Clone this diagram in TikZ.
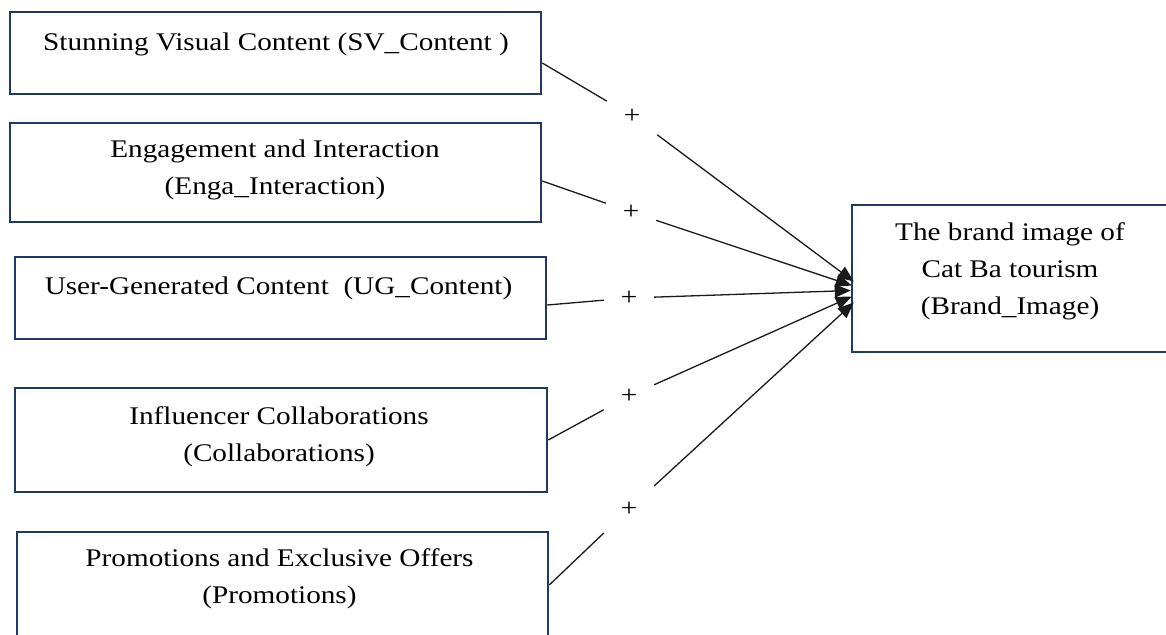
\documentclass[tikz,border=0pt]{standalone}
\usepackage{fontspec}
\setmainfont{Liberation Serif}[FakeStretch=1.15]
\usetikzlibrary{arrows.meta,calc}
\definecolor{boxblue}{HTML}{1F3864}
\definecolor{linegray}{HTML}{1A1A1A}
\begin{document}
\begin{tikzpicture}[x=1pt,y=-1pt,
  box/.style={draw=boxblue,line width=2.5pt,rectangle,inner sep=0pt,fill=white},
  txt/.style={align=center,font=\fontsize{25.4}{37}\selectfont,inner sep=0pt},
  plus/.style={rectangle,minimum width=50pt,minimum height=50pt,inner sep=0pt,font=\fontsize{25.4}{30}\selectfont},
  link/.style={draw=linegray,line width=1.3pt},
  arr/.style={link,-{Triangle[length=16pt,width=13pt]}}]
\useasboundingbox (0,0) rectangle (1166,634);
\clip (0,0) rectangle (1166,634);
% source boxes
\node[box,minimum width=531pt,minimum height=82pt] (b1) at (275.5,53) {};
\node[box,minimum width=531pt,minimum height=99pt] (b2) at (275.5,172.5) {};
\node[box,minimum width=531pt,minimum height=82pt] (b3) at (280.5,298) {};
\node[box,minimum width=532pt,minimum height=104pt] (b4) at (281,440) {};
\node[box,minimum width=531pt,minimum height=108pt] (b5) at (282.5,586) {};
\node[box,minimum width=318pt,minimum height=147pt] (brand) at (1011,278.5) {};
% texts
\node[txt] (b1t) at (276,44) {Stunning Visual Content (SV\_Content )};
\node[txt] (b2t) at (275,170) {Engagement and Interaction\\(Enga\_Interaction)};
\node[txt] (b3t) at (278.5,288) {User-Generated Content~~(UG\_Content)};
\node[txt] (b4t) at (279,436.5) {Influencer Collaborations\\(Collaborations)};
\node[txt] (b5t) at (279.5,578.5) {Promotions and Exclusive Offers\\(Promotions)};
\node[txt] (brandt) at (1010,271) {The brand image of\\Cat Ba tourism\\(Brand\_Image)};
% plus labels
\node[plus] (p1) at (632,116) {+};
\node[plus] (p2) at (631,212) {+};
\node[plus] (p3) at (629,298) {+};
\node[plus] (p4) at (629,396) {+};
\node[plus] (p5) at (629,509) {+};
% arrow targets
\coordinate (t1) at ($(brand.west)+(3,3)$);
\coordinate (t2) at ($(brand.west)+(1,7)$);
\coordinate (t3) at ($(brand.west)+(0,12)$);
\coordinate (t4) at ($(brand.west)+(1,18)$);
\coordinate (t5) at ($(brand.west)+(3,24)$);
% connectors
\draw[link] ([yshift=-10pt]b1.east) -- (p1);
\draw[arr] (p1) -- (t1);
\draw[link] ([yshift=-8.5pt]b2.east) -- (p2);
\draw[arr] (p2) -- (t2);
\draw[link] ([yshift=-7pt]b3.east) -- (p3);
\draw[arr] (p3) -- (t3);
\draw[link] (b4.east) -- (p4);
\draw[arr] (p4) -- (t4);
\draw[link] ([yshift=1pt]b5.east) -- (p5);
\draw[arr] (p5) -- (t5);
\end{tikzpicture}
\end{document}
